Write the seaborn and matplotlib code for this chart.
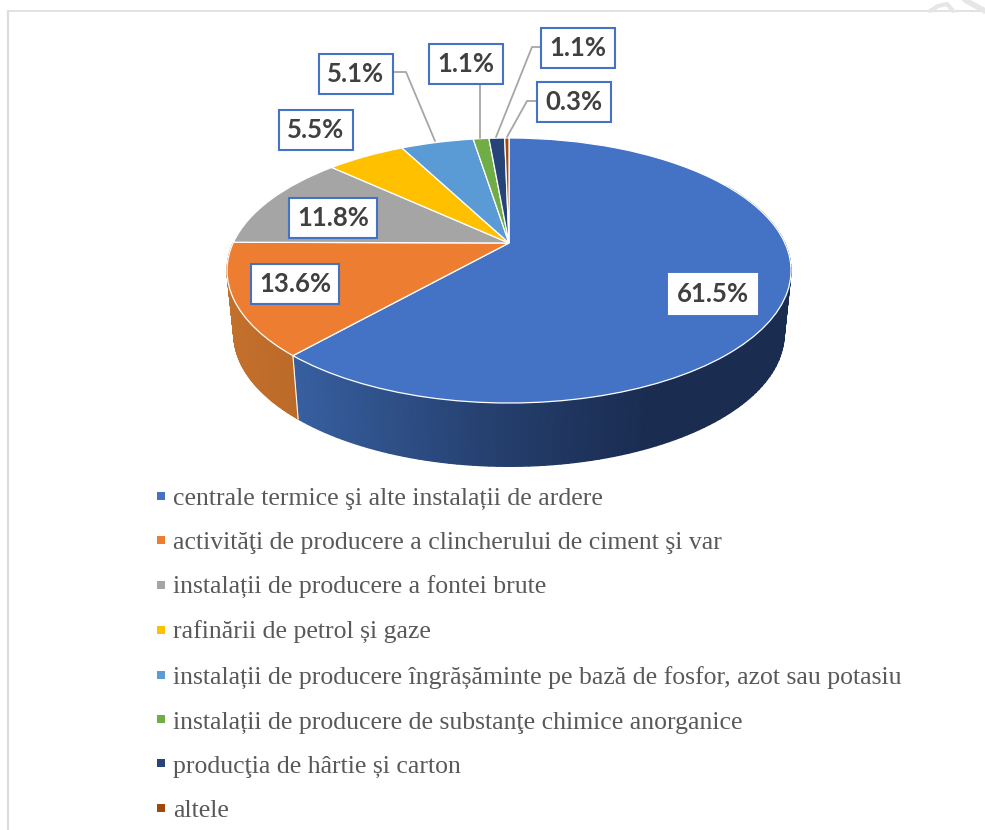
import numpy as np
import matplotlib
matplotlib.use('Agg')
import matplotlib.pyplot as plt
import seaborn as sns
from matplotlib.colors import LinearSegmentedColormap
from matplotlib.patches import Patch
from matplotlib.transforms import Transform

categories = [
    'centrale termice şi alte instalații de ardere',
    'activităţi de producere a clincherului de ciment şi var',
    'instalații de producere a fontei brute',
    'rafinării de petrol și gaze',
    'instalații de producere îngrășăminte pe bază de fosfor, azot sau potasiu',
    'instalații de producere de substanţe chimice anorganice',
    'producţia de hârtie și carton',
    'altele',
]
values = [61.5, 13.6, 11.8, 5.5, 5.1, 1.1, 1.1, 0.3]
slice_colors = ['#4472C4', '#ED7D31', '#A5A5A5', '#FFC000', '#5B9BD5', '#70AD47', '#264478', '#9E480E']
wall_ramps = [['#375F9F', '#243D6B', '#1A2C50'], ['#C4702D', '#BC6A28']]

# label box centres in picture pixels
label_pos = [(713, 294), (295, 284), (333, 218), (316, 130), (356, 74), (466, 64), (578, 48), (574, 102)]
leaders = [
    [(392, 72), (406, 72), (435, 141)],
    [(480, 85), (480, 138)],
    [(542, 47), (532, 47), (496, 137)],
    [(538, 101), (527, 101), (507, 137)],
]

cx, cy = 509, 270.5
ry, apex = 132.5, 27.5
c = apex / ry
k = 282 * np.sqrt(1 - c ** 2)


def persp(x, y):
    den = c * y + 1
    return cx + k * x / den, cy - (ry * y + apex) / den


class Tilt(Transform):
    input_dims = output_dims = 2

    def transform_non_affine(self, pts):
        pts = np.asarray(pts)
        return np.column_stack(persp(pts[:, 0], pts[:, 1]))


sns.set_theme(style='white')
plt.rcParams['font.family'] = ['Liberation Serif', 'DejaVu Serif']
palette = sns.color_palette(slice_colors)

fig = plt.figure(figsize=(9.85, 8.3), dpi=100)
ax = fig.add_axes([0, 0, 1, 1])

wedges, _ = ax.pie(values, colors=palette, startangle=90, counterclock=False,
                   wedgeprops=dict(edgecolor='white', linewidth=0.9, zorder=3))
for w in wedges:
    w.set_transform(Tilt() + ax.transData)

# side wall, only the front part of the rim is ever visible
edges = np.cumsum([0] + values) / 100 * 360
for i in range(2):
    t = np.radians(np.linspace(max(edges[i], 60), min(edges[i + 1], 300), 120))
    px, py = persp(np.sin(t), np.cos(t))
    qx, qy = cx + 0.976 * (px - cx), py + 63.5
    X = np.vstack([px, qx])
    Y = np.vstack([py, qy])
    cmap = LinearSegmentedColormap.from_list('wall', wall_ramps[i])
    if i == 0:
        ramp = np.interp(qx, [300, 510, 650], [0, 0.5, 1])
    else:
        ramp = np.interp(qx, [230, 300], [0, 1])
    ax.pcolormesh(X, Y, np.vstack([ramp, ramp]), cmap=cmap, vmin=0, vmax=1, shading='gouraud', zorder=2)

# seam between the blue and orange walls
ax.plot([px[0], qx[0]], [py[0], qy[0]], color='white', lw=0.8, zorder=2.5)

for pts in leaders:
    ax.plot(*zip(*pts), color='#A6A6A6', lw=1.3, zorder=4)

for i, (v, pos) in enumerate(zip(values, label_pos)):
    edge = 'white' if i == 0 else '#4472C4'
    ax.text(pos[0], pos[1], f'{v}%', ha='center', va='center', family='Lato', weight='bold',
            fontsize=18.5, color='#404040', zorder=5,
            bbox=dict(boxstyle='square,pad=0.32', fc='white', ec=edge, lw=1.5))

handles = [Patch(color=col, linewidth=0) for col in palette]
ax.legend(handles, categories, loc='upper left', bbox_to_anchor=(157, 488), bbox_transform=ax.transData,
          frameon=False, fontsize=18.5, labelcolor='#595959', handlelength=0.31, handleheight=0.105,
          handletextpad=0.31, labelspacing=0.86, borderpad=0, borderaxespad=0)

# page frame and the bit of watermark at the corner
ax.plot([8, 985], [11, 11], color='#DDDDDD', lw=1.2, zorder=1)
ax.plot([8, 8], [11, 830], color='#DDDDDD', lw=1.6, zorder=1)
ax.plot([930, 938, 947, 953], [11, 6, 4, 11], color='#E6E6E6', lw=3, zorder=1)
ax.plot([965, 985], [0, 11], color='#E6E6E6', lw=4, zorder=1)

ax.set_xlim(0, 985)
ax.set_ylim(830, 0)
ax.set_aspect('auto')
ax.axis('off')
fig.savefig('out.png', dpi=100)
